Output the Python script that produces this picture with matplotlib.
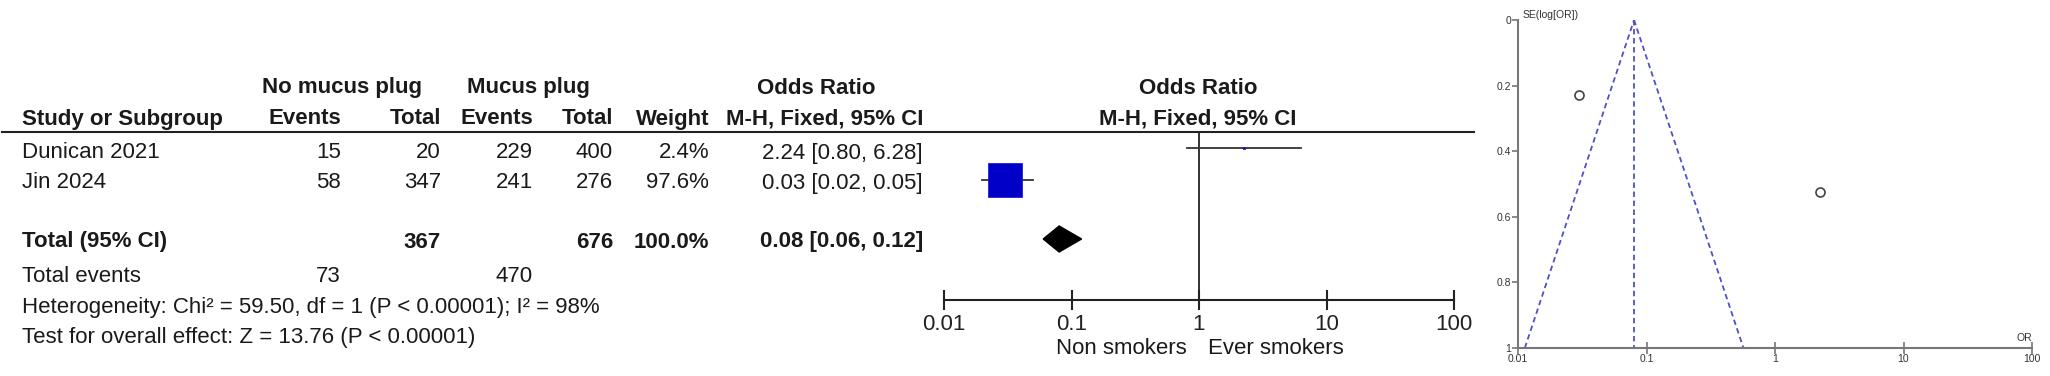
import matplotlib
matplotlib.use('Agg')
import matplotlib.pyplot as plt
from matplotlib.ticker import NullLocator

# %%
# study data
studies = ['Dunican 2021', 'Jin 2024']
no_plug_events = [15, 58]
no_plug_total = [20, 347]
plug_events = [229, 241]
plug_total = [400, 276]
weights = [2.4, 97.6]
odds_ratio = [2.24, 0.03]
ci_low = [0.80, 0.02]
ci_high = [6.28, 0.05]

pooled_or = 0.08
pooled_low = 0.06
pooled_high = 0.12
total_no_plug = 367
total_plug = 676
events_no_plug = 73
events_plug = 470

heterogeneity = 'Heterogeneity: Chi\u00b2 = 59.50, df = 1 (P < 0.00001); I\u00b2 = 98%'
overall = 'Test for overall effect: Z = 13.76 (P < 0.00001)'

# funnel plot values
funnel_se = [0.525, 0.23]
funnel_or = [2.24, 0.03]
funnel_bottom = [0.0113, 0.568]   # pseudo 95% limits at SE = 1

or_ticks = [0.01, 0.1, 1, 10, 100]
or_tick_labels = ['0.01', '0.1', '1', '10', '100']
se_ticks = [0, 0.2, 0.4, 0.6, 0.8, 1]
se_tick_labels = ['0', '0.2', '0.4', '0.6', '0.8', '1']

# %%
W, H = 2050, 376
plt.rcParams['font.family'] = ['Liberation Sans', 'DejaVu Sans']
fig = plt.figure(figsize=(W / 100, H / 100), dpi=100)


def px_axes(x0, y0, x1, y1):
    return fig.add_axes([x0 / W, 1 - y1 / H, (x1 - x0) / W, (y1 - y0) / H])


# overlay for the table text (pixel coordinates)
tab = fig.add_axes([0, 0, 1, 1])
tab.set_xlim(0, W)
tab.set_ylim(H, 0)
tab.axis('off')

fs = 16
tc = '#1a1a1a'


def txt(x, y, s, ha='right', bold=False, size=fs):
    tab.text(x, y, s, ha=ha, va='center', fontsize=size, color=tc,
             fontweight='bold' if bold else 'normal')


# column right edges
c_name, c_ev1, c_tot1, c_ev2, c_tot2, c_w, c_or = 22, 341, 441, 533, 613, 709, 923
row_y = [153, 183]
y_h1, y_h2, y_total, y_events, y_het, y_test = 88, 119, 242, 276, 308, 338

# headers
txt(342, y_h1, 'No mucus plug', ha='center', bold=True)
txt(528, y_h1, 'Mucus plug', ha='center', bold=True)
txt(816, y_h1, 'Odds Ratio', ha='center', bold=True)
txt(1198, y_h1, 'Odds Ratio', ha='center', bold=True)
txt(c_name, y_h2, 'Study or Subgroup', ha='left', bold=True)
txt(c_ev1, y_h2, 'Events', bold=True)
txt(c_tot1, y_h2, 'Total', bold=True)
txt(c_ev2, y_h2, 'Events', bold=True)
txt(c_tot2, y_h2, 'Total', bold=True)
txt(c_w, y_h2, 'Weight', bold=True)
txt(c_or, y_h2, 'M-H, Fixed, 95% CI', bold=True)
txt(1198, y_h2, 'M-H, Fixed, 95% CI', ha='center', bold=True)
tab.plot([2, 1474], [132, 132], color='#222222', lw=1.5)

# study rows
for i, name in enumerate(studies):
    y = row_y[i]
    txt(c_name, y, name, ha='left')
    txt(c_ev1, y, str(no_plug_events[i]))
    txt(c_tot1, y, str(no_plug_total[i]))
    txt(c_ev2, y, str(plug_events[i]))
    txt(c_tot2, y, str(plug_total[i]))
    txt(c_w, y, '%.1f%%' % weights[i])
    txt(c_or, y, '%.2f [%.2f, %.2f]' % (odds_ratio[i], ci_low[i], ci_high[i]))

# totals
txt(c_name, y_total, 'Total (95% CI)', ha='left', bold=True)
txt(c_tot1, y_total, str(total_no_plug), bold=True)
txt(c_tot2, y_total, str(total_plug), bold=True)
txt(c_w, y_total, '%.1f%%' % sum(weights), bold=True)
txt(c_or, y_total, '%.2f [%.2f, %.2f]' % (pooled_or, pooled_low, pooled_high), bold=True)
txt(c_name, y_events, 'Total events', ha='left')
txt(c_ev1, y_events, str(events_no_plug))
txt(c_ev2, y_events, str(events_plug))
txt(c_name, y_het, heterogeneity, ha='left')
txt(c_name, y_test, overall, ha='left')

txt(1187, 348, 'Non smokers')
txt(1208, 348, 'Ever smokers', ha='left')

# %%
# forest plot
ax = px_axes(944, 132, 1454, 300)
ax.set_xscale('log')
ax.set_xlim(0.01, 100)
ax.set_ylim(300, 132)
ax.patch.set_alpha(0)
for s in ['top', 'left', 'right']:
    ax.spines[s].set_visible(False)
ax.spines['bottom'].set_linewidth(1.5)
ax.spines['bottom'].set_color('#222222')
ax.set_yticks([])
ax.set_xticks(or_ticks)
ax.set_xticklabels(or_tick_labels)
ax.xaxis.set_minor_locator(NullLocator())
ax.tick_params(axis='x', direction='inout', length=14, width=1.5,
               labelsize=fs, pad=3, colors='#222222')
ax.axvline(1, color='#222222', lw=1.3)

mark_y = [148, 180]
box_max = 24.0
for i in range(len(studies)):
    ax.plot([ci_low[i], ci_high[i]], [mark_y[i], mark_y[i]], color='#333333', lw=1.3)
    ms = box_max * (weights[i] / max(weights)) ** 0.68
    ax.plot(odds_ratio[i], mark_y[i], marker='s', ms=ms, color='#0000C8',
            mec='#2020D0', mew=0.6)

dy = 13
ax.fill([pooled_low, pooled_or, pooled_high, pooled_or],
        [239, 239 - dy, 239, 239 + dy], color='black')

# %%
# funnel plot
fx = px_axes(1518, 20, 2032, 348)
fx.set_xscale('log')
fx.set_xlim(0.01, 100)
fx.set_ylim(1, 0)
fx.patch.set_alpha(0)
for s in ['top', 'right']:
    fx.spines[s].set_visible(False)
for s in ['left', 'bottom']:
    fx.spines[s].set_color('#777777')
    fx.spines[s].set_linewidth(1.5)
fx.set_xticks(or_ticks)
fx.set_xticklabels(or_tick_labels)
fx.xaxis.set_minor_locator(NullLocator())
fx.set_yticks(se_ticks)
fx.set_yticklabels(se_tick_labels)
fx.tick_params(axis='x', direction='inout', length=8, width=1.2,
               labelsize=7.5, pad=0, colors='#777777', labelcolor='#333333')
fx.tick_params(axis='y', direction='out', length=4, width=1.2,
               labelsize=7.5, pad=1, colors='#777777', labelcolor='#333333')

dash = dict(color='#5050C8', lw=1.3, linestyle=(0, (3, 2)))
fx.plot([funnel_bottom[0], pooled_or], [1, 0], **dash)
fx.plot([pooled_or, funnel_bottom[1]], [0, 1], **dash)
fx.plot([pooled_or, pooled_or], [0, 1], **dash)
fx.plot(funnel_or, funnel_se, 'o', ms=6.5, mfc='none', mec='#444444', mew=1.2,
        clip_on=False)

fx.text(0.008, 1.0, 'SE(log[OR])', transform=fx.transAxes, fontsize=7.5,
        color='#333333', ha='left', va='bottom')
fx.text(0.985, 0.015, 'OR', transform=fx.transAxes, fontsize=7.5,
        color='#333333', ha='center', va='bottom')

plt.savefig('out.png', dpi=100)
